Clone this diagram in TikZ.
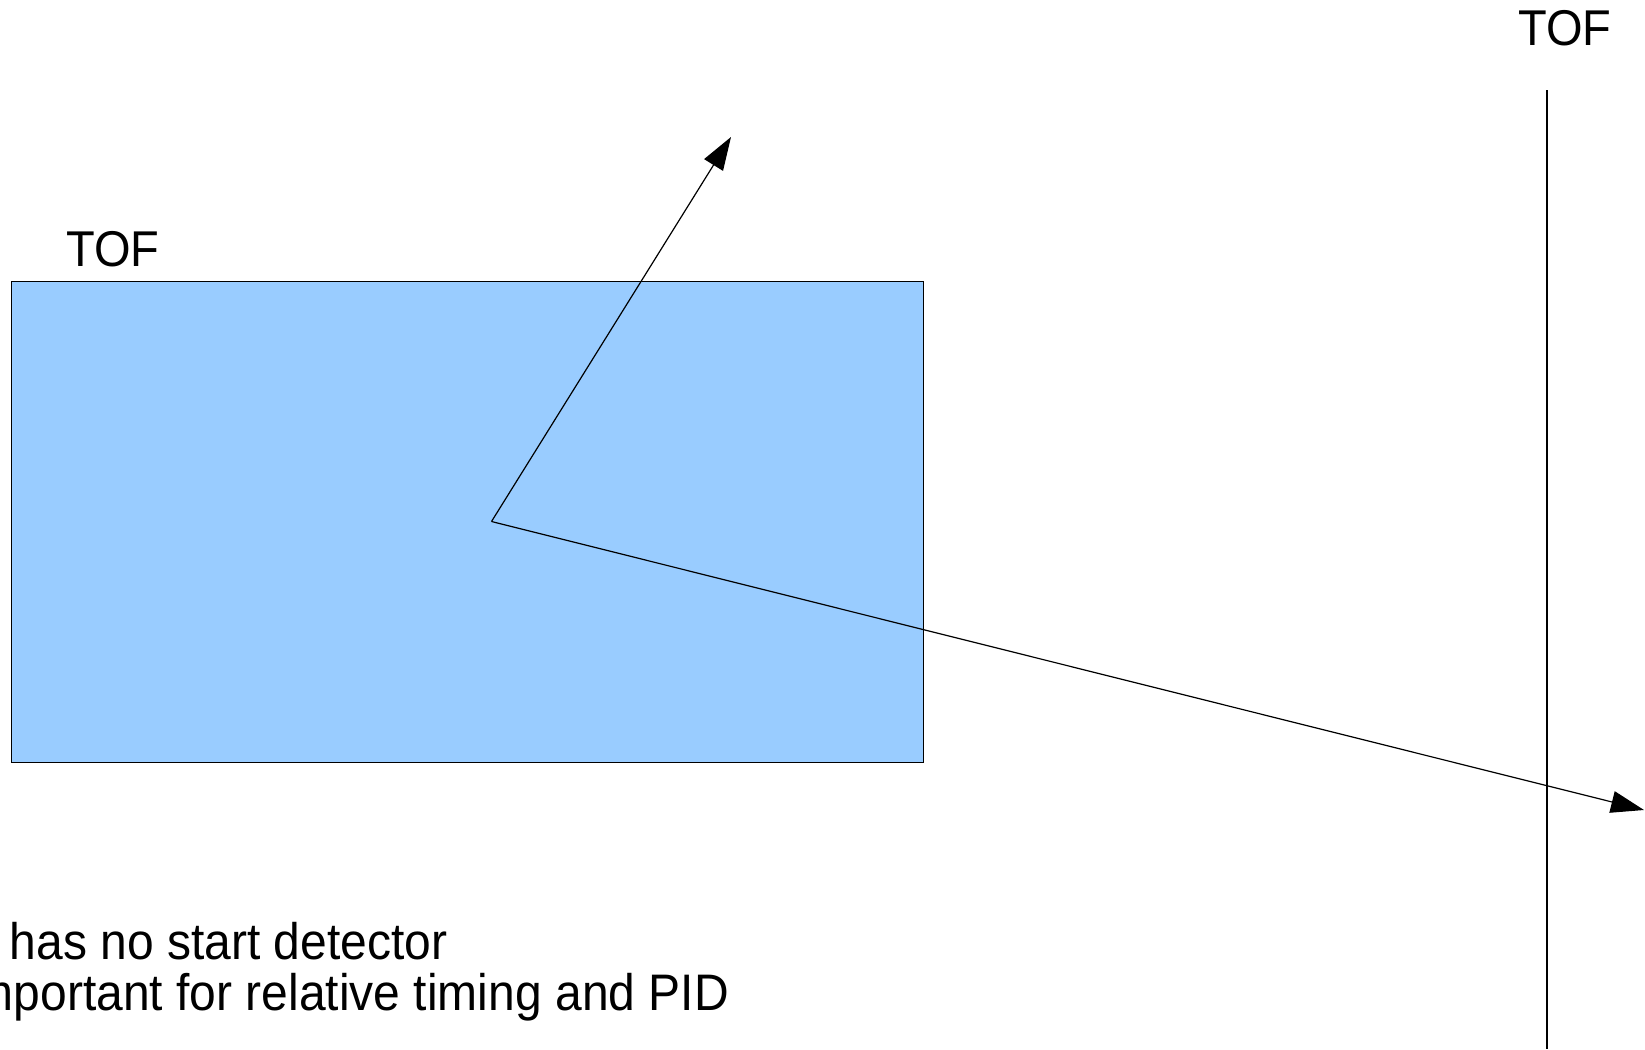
\documentclass[tikz,border=0pt]{standalone}
\usepackage{fontspec}
\usepackage{graphicx}
\setmainfont{Liberation Sans}
\usetikzlibrary{arrows.meta}
\definecolor{detfill}{HTML}{99CCFF}
% text is set slightly taller than its natural shape
\newcommand{\tallText}[1]{\scalebox{1}[1.07]{#1}}
\begin{document}
\begin{tikzpicture}[x=1pt,y=-1pt,
  track/.style={line width=1.2pt, -{Triangle[length=33pt,width=22pt]}},
  plane/.style={line width=1.2pt},
  detector/.style={draw, line width=1pt, fill=detfill, inner sep=0pt,
    minimum width=912.5pt, minimum height=480.5pt, anchor=north west},
  lbl/.style={font=\fontsize{48}{55}\selectfont, inner sep=0pt, anchor=base west},
  toflbl/.style={font=\fontsize{47}{54}\selectfont, inner sep=0pt, anchor=base west},
  ]
\useasboundingbox (0,0) rectangle (1645,1049);

% inner TOF barrel
\node[detector] (tof) at (10.5,281) {};
\node[toflbl] (toflabel) at (66,266) {\tallText{TOF}};

% outer TOF plane
\coordinate (planetop) at (1547,90);
\coordinate (planebot) at (1547,1049);
\draw[plane] (planetop) -- (planebot);
\node[toflbl] (planelabel) at (1518,46) {\tallText{TOF}};

% particle tracks from the vertex
\coordinate (vertex) at (491.5,521.5);
\coordinate (tipup) at (731,137);
\coordinate (tipright) at (1644,810);
\draw[track] (vertex) -- (tipup);
\draw[track] (vertex) -- (tipright);

% notes
\node[lbl] (note1) at (9.7,959.5) {\tallText{has no start detector}};
\node[lbl] (note2) at (-37,1010) {\tallText{important for relative timing and PID}};
\end{tikzpicture}
\end{document}
